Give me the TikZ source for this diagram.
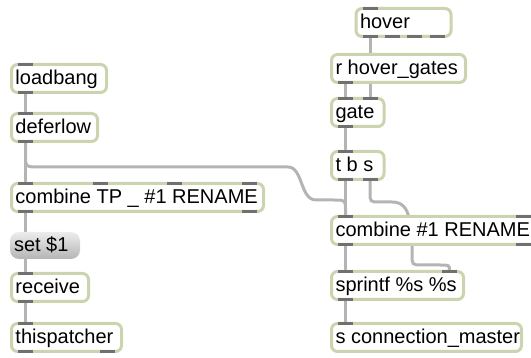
\documentclass[tikz,border=0pt]{standalone}
\usepackage{fontspec}
\setmainfont{Liberation Sans}
\usetikzlibrary{backgrounds}
\definecolor{boxc}{RGB}{202,212,174}
\definecolor{portc}{RGB}{112,112,112}
\definecolor{cordc}{RGB}{180,180,180}
\newcommand\mxobj[5]{\node[obj, minimum width=#4pt] (#1) at (#2,#3) {\makebox[\dimexpr#4pt-8pt\relax][l]{#5}};}
\newcommand\mxport[2]{\fill[port] ([xshift=#2pt]#1) ++(-7.5,-1.75) rectangle ++(15,3.5);}
\begin{document}
\begin{tikzpicture}[x=1pt,y=-1pt,
  obj/.style={draw=boxc, line width=3pt, fill=white, rounded corners=6pt, anchor=north west,
    outer sep=0pt, inner xsep=4pt, inner ysep=0pt, minimum height=28pt,
    text height=15.5pt, text depth=3.5pt, font=\fontsize{20}{23}\selectfont},
  msg/.style={draw=none, rounded corners=9pt, top color=gray!15, bottom color=gray!58, anchor=north west,
    outer sep=0pt, inner xsep=4pt, inner ysep=0pt, minimum height=27pt,
    text height=15.5pt, text depth=3.5pt, font=\fontsize{20}{23}\selectfont},
  port/.style={fill=portc},
  cord/.style={draw=cordc, line width=3pt}]
\useasboundingbox (0,0) rectangle (531,358);
\clip (0,0) rectangle (531,358);
% boxes
\mxobj{loadbang}{11.5}{64.5}{95}{loadbang}
\mxobj{deferlow}{11.5}{113.5}{86}{deferlow}
\mxobj{combtp}{11.5}{183.5}{252}{combine TP \_ \#1 RENAME}
\node[msg, minimum width=70pt] (setone) at (10,232) {\makebox[62pt][l]{set \$1}};
\mxobj{receive}{11.5}{273.5}{77}{receive}
\mxobj{thisp}{11.5}{323.5}{110}{thispatcher}
\mxobj{hover}{356}{8.5}{95}{hover}
\mxobj{rhover}{331.5}{54.5}{134}{r hover\_gates}
\mxobj{gate}{331.5}{98.5}{52.5}{gate}
\mxobj{tbs}{331.5}{151.5}{52.5}{t b s}
\mxobj{comb}{331.5}{216.5}{205.5}{combine \#1 RENAME}
\mxobj{sprintf}{331.5}{271.5}{132}{sprintf \%s \%s}
\mxobj{sconn}{331.5}{323.5}{190}{s connection\_master}
% ports
\mxport{loadbang.north west}{14}\mxport{loadbang.south west}{14}
\mxport{deferlow.north west}{14}\mxport{deferlow.south west}{14}
\mxport{combtp.north west}{14}\mxport{combtp.north west}{88.7}\mxport{combtp.north west}{163.3}\mxport{combtp.north east}{-14}
\mxport{combtp.south west}{14}\mxport{combtp.south east}{-14}
\mxport{receive.north west}{14}\mxport{receive.south west}{14}
\mxport{thisp.north west}{14}\mxport{thisp.south west}{14}\mxport{thisp.south east}{-14}
\mxport{hover.north west}{14}
\mxport{hover.south west}{14}\mxport{hover.south west}{36.3}\mxport{hover.south west}{58.7}\mxport{hover.south east}{-14}
\mxport{rhover.south west}{14}
\mxport{gate.north west}{14}\mxport{gate.north east}{-14}\mxport{gate.south west}{14}
\mxport{tbs.north west}{14}\mxport{tbs.south west}{14}\mxport{tbs.south east}{-14}
\mxport{comb.north west}{14}\mxport{comb.north east}{-14}\mxport{comb.south west}{14}\mxport{comb.south east}{-14}
\mxport{sprintf.north west}{14}\mxport{sprintf.north east}{-14}\mxport{sprintf.south west}{14}
\mxport{sconn.north west}{14}
% cords
\begin{pgfonlayer}{background}
\draw[cord] ([xshift=14pt]loadbang.south west) -- ([xshift=14pt]deferlow.north west);
\draw[cord] ([xshift=14pt]deferlow.south west) -- ([xshift=14pt]combtp.north west);
\draw[cord] ([xshift=14pt]deferlow.south west) -- (25.5,155) .. controls (25.5,167) and (25.5,167) .. (40,167)
  -- (288,167) .. controls (303,167) and (300,200) .. (316,200) -- (334,200)
  .. controls (345.5,200) and (345.5,200) .. (345.5,210) -- ([xshift=14pt]comb.north west);
\draw[cord] ([xshift=14pt]combtp.south west) -- ([xshift=15.5pt]setone.north west);
\draw[cord] ([xshift=15.5pt]setone.south west) -- ([xshift=14pt]receive.north west);
\draw[cord] ([xshift=14pt]receive.south west) -- ([xshift=14pt]thisp.north west);
\draw[cord] ([xshift=14pt]hover.south west) -- ([xshift=-14pt]gate.north east);
\draw[cord] ([xshift=14pt]rhover.south west) -- ([xshift=14pt]gate.north west);
\draw[cord] ([xshift=14pt]gate.south west) -- ([xshift=14pt]tbs.north west);
\draw[cord] ([xshift=14pt]tbs.south west) -- ([xshift=14pt]comb.north west);
\draw[cord] ([xshift=-14pt]tbs.south east) -- (370,192) .. controls (370,202) and (370,202) .. (380,202)
  -- (392,202) .. controls (402,202) and (407,208) .. (409,218) -- (412,245) -- (412,254)
  .. controls (412,265) and (412,265) .. (422,265) -- (440,265)
  .. controls (449.5,265) and (449.5,265) .. ([xshift=-14pt]sprintf.north east);
\draw[cord] ([xshift=14pt]comb.south west) -- ([xshift=14pt]sprintf.north west);
\draw[cord] ([xshift=14pt]sprintf.south west) -- ([xshift=14pt]sconn.north west);
\end{pgfonlayer}
\end{tikzpicture}
\end{document}
